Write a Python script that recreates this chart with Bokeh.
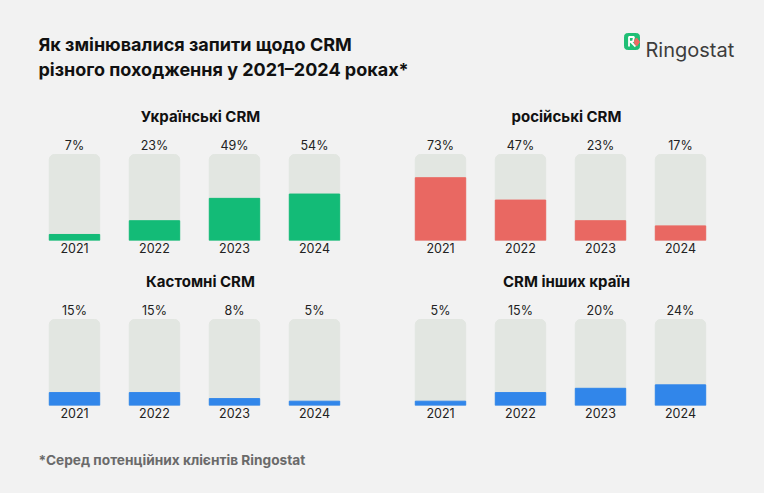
from bokeh.plotting import figure
from bokeh.layouts import column, row
from bokeh.models import ColumnDataSource, Range1d, FactorRange
from bokeh.core.properties import value
from bokeh.embed import file_html
from bokeh.resources import INLINE

# data
years = ["2021", "2022", "2023", "2024"]
ukr_crm = [7, 23, 49, 54]
rus_crm = [73, 47, 23, 17]
custom_crm = [15, 15, 8, 5]
foreign_crm = [5, 15, 20, 24]

panel_titles = ["Українські CRM", "російські CRM", "Кастомні CRM", "CRM інших країн"]
title_lines = ["Як змінювалися запити щодо CRM", "різного походження у 2021–2024 роках*"]
footnote = "*Серед потенційних клієнтів Ringostat"
brand = "Ringostat"

BG = "#f2f2f2"
TRACK = "#e2e6e1"
GREEN = "#13bb77"
RED = "#e96862"
BLUE = "#3186ea"
FONT = "Inter"

W = 764
HALF = W // 2
HEAD_H = 96
PANEL_H = 165
FOOT_H = 493 - HEAD_H - 2 * PANEL_H
AXIS_H = 21
FRAME_H = PANEL_H - AXIS_H
PX_PER_PCT = 0.86  # 100% -> 86px


def base_fig(width, height, **kw):
    p = figure(width=width, height=height, output_backend="svg",
               toolbar_location=None, **kw)
    p.background_fill_color = BG
    p.border_fill_color = BG
    p.outline_line_color = None
    p.grid.visible = False
    p.styles = {"background-color": BG}
    return p


def make_panel(title, values, color, left, right):
    p = base_fig(HALF, PANEL_H,
                 x_range=FactorRange(*years, range_padding=0),
                 y_range=Range1d(0, FRAME_H / PX_PER_PCT),
                 y_axis_location=None,
                 min_border_left=left, min_border_right=right,
                 min_border_top=0, min_border_bottom=AXIS_H)
    src = ColumnDataSource(dict(
        year=years,
        val=values,
        full=[100] * len(years),
        label=["%d%%" % v for v in values],
    ))
    p.vbar(x="year", top="full", width=0.63, source=src, color=TRACK,
           border_radius=(5, 5, 0, 0))
    p.vbar(x="year", top="val", width=0.63, source=src, color=color)
    p.text(x="year", y="full", text="label", source=src, y_offset=-2,
           text_align="center", text_baseline="bottom",
           text_font=value(FONT), text_font_size="12.5px", text_color="#222222")
    # panel title, centred over the bars
    p.text(x=[2.0], y=[(FRAME_H - 20) / PX_PER_PCT], text=[title], x_offset=6,
           text_align="center", text_baseline="middle",
           text_font=value(FONT), text_font_size="15px", text_font_style="bold",
           text_color="#111111")

    ax = p.xaxis[0]
    ax.axis_line_color = None
    ax.major_tick_line_color = None
    ax.minor_tick_line_color = None
    ax.major_tick_out = 0
    ax.major_label_standoff = 2
    ax.major_label_text_font = FONT
    ax.major_label_text_font_size = "12.5px"
    ax.major_label_text_color = "#222222"
    return p


# header
head = base_fig(W, HEAD_H, x_range=Range1d(0, W), y_range=Range1d(HEAD_H, 0),
                min_border=0, x_axis_location=None, y_axis_location=None)
head.text(x=[38, 38], y=[44, 69], text=title_lines,
          text_baseline="alphabetic", text_font=value(FONT),
          text_font_size="18px", text_font_style="bold", text_color="#111111")
# logo
head.quad(left=[624], right=[639], top=[33], bottom=[49], color="#1fbf75",
          border_radius=3)
head.line(x=[628.5, 628.5, 633.5, 632.5, 628.5], y=[46, 36.5, 36.5, 41, 41.5],
          line_color="white", line_width=1.8)
head.line(x=[630.5, 635], y=[41.5, 46], line_color="white", line_width=1.8)
head.wedge(x=[639], y=[41.5], radius=5, start_angle=2.2, end_angle=4.1,
           radius_units="screen", color="#ee6a63")
head.text(x=[645], y=[49], text=[brand], text_baseline="alphabetic",
          text_font=value(FONT), text_font_size="20px", text_color="#3d3d3d")

p1 = make_panel(panel_titles[0], ukr_crm, GREEN, 34, HALF - 34 - 320)
p2 = make_panel(panel_titles[1], rus_crm, RED, 18, HALF - 18 - 320)
p3 = make_panel(panel_titles[2], custom_crm, BLUE, 34, HALF - 34 - 320)
p4 = make_panel(panel_titles[3], foreign_crm, BLUE, 18, HALF - 18 - 320)

foot = base_fig(W, FOOT_H, x_range=Range1d(0, W), y_range=Range1d(FOOT_H, 0),
                min_border=0, x_axis_location=None, y_axis_location=None)
foot.text(x=[38], y=[459 - HEAD_H - 2 * PANEL_H], text=[footnote],
          text_baseline="middle", text_font=value(FONT), text_font_size="13.7px",
          text_font_style="bold", text_color="#6a6a6a")

bg = {"background-color": BG}
layout = column(head, row(p1, p2, styles=bg), row(p3, p4, styles=bg), foot,
                styles=bg)

open("out.html", "w").write(file_html(layout, INLINE))
